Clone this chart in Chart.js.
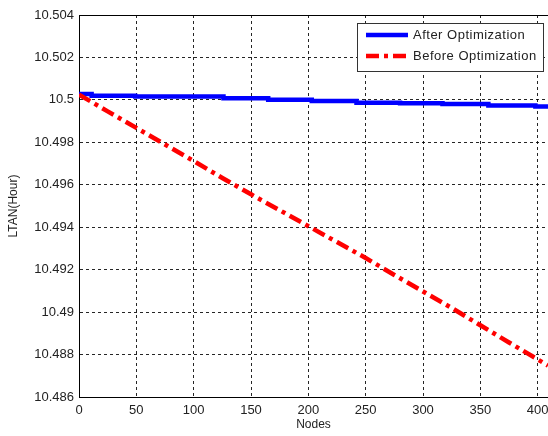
<!DOCTYPE html>
<html>
<head>
<meta charset="utf-8">
<script src="https://cdn.jsdelivr.net/npm/chart.js@4.4.1/dist/chart.umd.min.js"></script>
<style>
  html, body { margin: 0; padding: 0; background: #fff; }
  #wrap { width: 548px; height: 436px; }
</style>
</head>
<body>
<div id="wrap"><canvas id="chart" width="548" height="436"></canvas></div>
<script>
// values
const afterNodes = [0, 11, 49, 126, 165, 203, 242, 280, 317, 357, 398, 409];
const afterLtan = [10.50028, 10.50019, 10.50016, 10.50008, 10.50001, 10.49995, 10.49987, 10.49984, 10.49981, 10.49973, 10.49969, 10.49969];

const beforeNodes = [0, 25, 50, 75, 100, 125, 150, 175, 200, 225, 250, 275, 300, 325, 350, 375, 400, 409];
const beforeLtan = [10.50025, 10.49946, 10.49868, 10.4979, 10.49712, 10.49632, 10.49555, 10.4948, 10.49405, 10.4933, 10.49255, 10.49175, 10.49097, 10.4902, 10.48938, 10.48857, 10.48777, 10.48748];

const seriesNames = ['After Optimization', 'Before Optimization'];

const toPoints = (xs, ys) => xs.map((x, i) => ({x: x, y: ys[i]}));

const FONT = '"Liberation Sans", Arial, sans-serif';

// top frame line + legend box like matlab
const frameAndLegend = {
  id: 'frameAndLegend',
  afterDatasetsDraw(chart) {
    const ctx = chart.ctx;
    const area = chart.chartArea;
    ctx.save();
    ctx.strokeStyle = '#000';
    ctx.lineWidth = 1;
    ctx.beginPath();
    ctx.moveTo(area.left, area.top + 0.5);
    ctx.lineTo(area.right, area.top + 0.5);
    ctx.stroke();

    // legend
    const bx = 357.5, by = 23.5, bw = 186, bh = 48;
    ctx.fillStyle = '#fff';
    ctx.fillRect(bx, by, bw, bh);
    ctx.strokeStyle = '#333';
    ctx.strokeRect(bx, by, bw, bh);
    ctx.font = '13px ' + FONT;
    ctx.letterSpacing = '0.5px';
    ctx.textBaseline = 'middle';
    chart.data.datasets.forEach((ds, i) => {
      const y = 35 + i * 21;
      ctx.strokeStyle = ds.borderColor;
      ctx.lineWidth = ds.borderWidth;
      ctx.setLineDash(ds.borderDash || []);
      ctx.beginPath();
      ctx.moveTo(366, y);
      ctx.lineTo(408, y);
      ctx.stroke();
      ctx.setLineDash([]);
      ctx.fillStyle = '#222';
      ctx.fillText(ds.label, 413, y);
    });
    ctx.restore();
  }
};

new Chart(document.getElementById('chart'), {
  type: 'line',
  data: {
    datasets: [{
      label: seriesNames[0],
      data: toPoints(afterNodes, afterLtan),
      borderColor: '#0000ff',
      borderWidth: 4.5,
      stepped: true,
      pointRadius: 0,
      order: 1
    }, {
      label: seriesNames[1],
      data: toPoints(beforeNodes, beforeLtan),
      borderColor: '#ff0000',
      borderWidth: 4.5,
      borderDash: [13, 5, 4, 5],
      pointRadius: 0,
      order: 0
    }]
  },
  options: {
    responsive: false,
    animation: false,
    devicePixelRatio: 1,
    layout: { padding: { top: 15, left: 0, right: 0, bottom: 0 } },
    plugins: {
      legend: { display: false },
      tooltip: { enabled: false }
    },
    scales: {
      x: {
        type: 'linear',
        min: 0,
        max: 409,
        ticks: {
          stepSize: 50,
          includeBounds: false,
          padding: 6,
          color: '#222',
          font: { family: FONT, size: 13 },
          maxRotation: 0
        },
        grid: { color: 'rgba(0,0,0,0.85)', lineWidth: 1, drawTicks: false },
        border: { color: '#000', width: 1, dash: [3, 3] },
        title: {
          display: true,
          text: 'Nodes',
          color: '#222',
          font: { family: FONT, size: 12 },
          padding: { top: 0, bottom: 4 }
        },
        afterFit(scale) {
          scale.height = 39;
          scale.paddingLeft = 0;
          scale.paddingRight = 0;
        }
      },
      y: {
        min: 10.486,
        max: 10.504,
        ticks: {
          stepSize: 0.002,
          padding: 5,
          color: '#222',
          font: { family: FONT, size: 13 },
          callback: v => String(parseFloat(v.toFixed(3)))
        },
        grid: { color: 'rgba(0,0,0,0.85)', lineWidth: 1, drawTicks: false },
        border: { color: '#000', width: 1, dash: [3, 3] },
        title: {
          display: true,
          text: 'LTAN(Hour)',
          color: '#222',
          font: { family: FONT, size: 12 },
          padding: { top: 6, bottom: 0 }
        },
        afterFit(scale) {
          scale.width = 79;
          scale.paddingTop = 0;
          scale.paddingBottom = 0;
        }
      }
    }
  },
  plugins: [frameAndLegend]
});
</script>
</body>
</html>
